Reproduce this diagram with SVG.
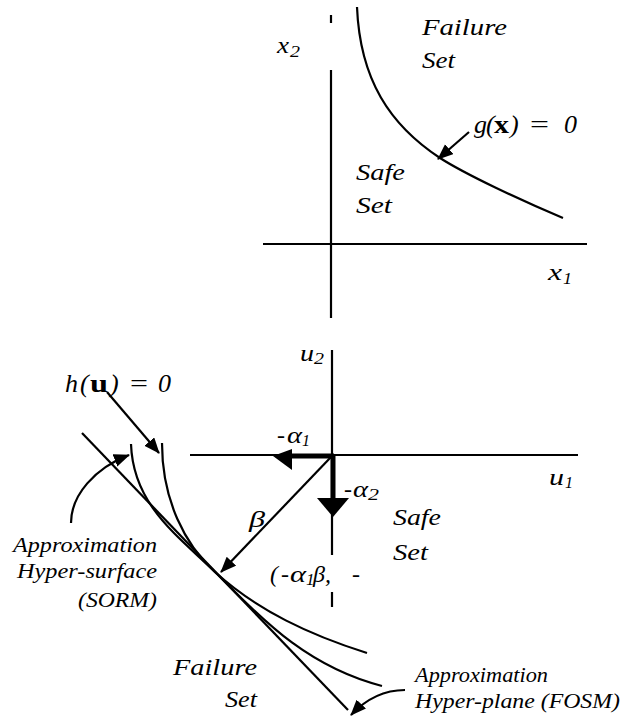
<svg xmlns="http://www.w3.org/2000/svg" width="627" height="724" viewBox="0 0 627 724">
<style>
  .ln { fill: none; stroke: #000; stroke-width: 2.2; }
  .thick { fill: none; stroke: #000; stroke-width: 5; }
  .t { font-family: "Liberation Serif", "Times New Roman", serif; font-style: italic; fill: #000; }
  .s23 { font-size: 23px; }
  .s20 { font-size: 20px; }
  .s24 { font-size: 24px; }
  .s26 { font-size: 26px; }
  .sub { font-size: 17px; }
  .up { font-style: normal; }
  .bold { font-style: normal; font-weight: bold; }
</style>
<defs>
  <marker id="ah" markerUnits="userSpaceOnUse" markerWidth="16" markerHeight="14" refX="15" refY="6.5" orient="auto">
    <path d="M0,0 L16,6.5 L0,13 z" fill="#000"/>
  </marker>
</defs>
<rect width="627" height="724" fill="#fff"/>

<g id="top-plot">
  <line class="ln" x1="331" y1="15" x2="331" y2="23"/>
  <line class="ln" x1="331" y1="70" x2="331" y2="318"/>
  <line class="ln" x1="263" y1="244" x2="587" y2="244"/>
  <path class="ln" d="M357,7 C360,80 390,125 440,158 C465,174 520,200 563,218"/>
</g>

<g id="bottom-plot">
  <line class="ln" x1="332" y1="350" x2="332" y2="555"/>
  <line class="ln" x1="332" y1="592" x2="332" y2="607"/>
  <line class="ln" x1="190" y1="455" x2="578" y2="455"/>
  <line class="ln" x1="82" y1="433" x2="348" y2="710"/>
  <path class="ln" d="M131,444 C133,505 178,536 215,572 C252,608 300,665 382,686"/>
  <path class="ln" d="M162,443 C162,500 185,545 215,572 C258,611 310,635 367,653"/>
</g>

<g id="alpha-vectors">
  <line class="thick" x1="334" y1="456" x2="290" y2="456"/>
  <polygon points="273,456 292,449 292,470" fill="#000"/>
  <line class="thick" x1="333" y1="455" x2="333" y2="500"/>
  <polygon points="333,517 317,498 349,498" fill="#000"/>
</g>

<g id="connectors">
  <line class="ln" x1="469" y1="132" x2="438" y2="159" marker-end="url(#ah)"/>
  <line class="ln" x1="107" y1="392" x2="159" y2="453" marker-end="url(#ah)"/>
  <line class="ln" x1="331" y1="457" x2="221" y2="572" marker-end="url(#ah)"/>
  <path class="ln" d="M71,523 C71,495 95,468 129,455" marker-end="url(#ah)"/>
  <path class="ln" d="M405,690 C385,690 368,697 351,715" marker-end="url(#ah)"/>
</g>

<g id="labels-top">
  <text class="t s23" x="422" y="35" textLength="85" lengthAdjust="spacingAndGlyphs">Failure</text>
  <text class="t s23" x="422" y="68" textLength="33" lengthAdjust="spacingAndGlyphs">Set</text>
  <text class="t s23" x="356" y="180" textLength="49" lengthAdjust="spacingAndGlyphs">Safe</text>
  <text class="t s23" x="356" y="213" textLength="36" lengthAdjust="spacingAndGlyphs">Set</text>
  <text class="t s24"><tspan x="277" y="53" textLength="12" lengthAdjust="spacingAndGlyphs">x</tspan><tspan class="sub" x="290" y="57" textLength="10" lengthAdjust="spacingAndGlyphs">2</tspan></text>
  <text class="t s24"><tspan x="548" y="280" textLength="14" lengthAdjust="spacingAndGlyphs">x</tspan><tspan class="sub" x="563" y="284" textLength="9" lengthAdjust="spacingAndGlyphs">1</tspan></text>
  <text class="t s26" y="133"><tspan x="474">g</tspan><tspan x="486">(</tspan><tspan class="bold" x="494" textLength="15" lengthAdjust="spacingAndGlyphs">x</tspan><tspan x="510">)</tspan><tspan x="530" class="up" textLength="19" lengthAdjust="spacingAndGlyphs">=</tspan><tspan x="564">0</tspan></text>
</g>

<g id="labels-bottom">
  <text class="t s24"><tspan x="300" y="361" textLength="14" lengthAdjust="spacingAndGlyphs">u</tspan><tspan class="sub" x="314" y="364" textLength="10" lengthAdjust="spacingAndGlyphs">2</tspan></text>
  <text class="t s26" y="392"><tspan x="65">h</tspan><tspan x="80">(</tspan><tspan class="bold" x="90" textLength="18" lengthAdjust="spacingAndGlyphs">u</tspan><tspan x="110">)</tspan><tspan x="130" class="up" textLength="18" lengthAdjust="spacingAndGlyphs">=</tspan><tspan x="158">0</tspan></text>
  <text class="t s24" y="443"><tspan x="277">-</tspan><tspan x="287" textLength="15" lengthAdjust="spacingAndGlyphs">α</tspan><tspan class="sub" x="302" y="446" textLength="8" lengthAdjust="spacingAndGlyphs">1</tspan></text>
  <text class="t s24" y="497"><tspan x="344">-</tspan><tspan x="353" textLength="15" lengthAdjust="spacingAndGlyphs">α</tspan><tspan class="sub" x="368" y="500" textLength="11" lengthAdjust="spacingAndGlyphs">2</tspan></text>
  <text class="t s24"><tspan x="549" y="485" textLength="15" lengthAdjust="spacingAndGlyphs">u</tspan><tspan class="sub" x="565" y="488" textLength="8" lengthAdjust="spacingAndGlyphs">1</tspan></text>
  <text class="t s24" x="249" y="527" textLength="16" lengthAdjust="spacingAndGlyphs">β</text>
  <text class="t s23" x="393" y="525" textLength="48" lengthAdjust="spacingAndGlyphs">Safe</text>
  <text class="t s23" x="393" y="560" textLength="35" lengthAdjust="spacingAndGlyphs">Set</text>
  <text class="t s24" y="582"><tspan x="270">(</tspan><tspan x="281">-</tspan><tspan x="290" textLength="16" lengthAdjust="spacingAndGlyphs">α</tspan><tspan class="sub" x="306" y="585">1</tspan><tspan x="313" y="582">β,</tspan><tspan x="352">-</tspan></text>
  <text class="t s20" x="13" y="552" textLength="144" lengthAdjust="spacingAndGlyphs">Approximation</text>
  <text class="t s20" x="17" y="578" textLength="140" lengthAdjust="spacingAndGlyphs">Hyper-surface</text>
  <text class="t s20" x="78" y="607" textLength="79" lengthAdjust="spacingAndGlyphs">(SORM)</text>
  <text class="t s23" x="173" y="675" textLength="84" lengthAdjust="spacingAndGlyphs">Failure</text>
  <text class="t s23" x="225" y="707" textLength="32" lengthAdjust="spacingAndGlyphs">Set</text>
  <text class="t s20" x="415" y="682" textLength="133" lengthAdjust="spacingAndGlyphs">Approximation</text>
  <text class="t s20" x="415" y="708" textLength="205" lengthAdjust="spacingAndGlyphs">Hyper-plane (FOSM)</text>
</g>
</svg>
